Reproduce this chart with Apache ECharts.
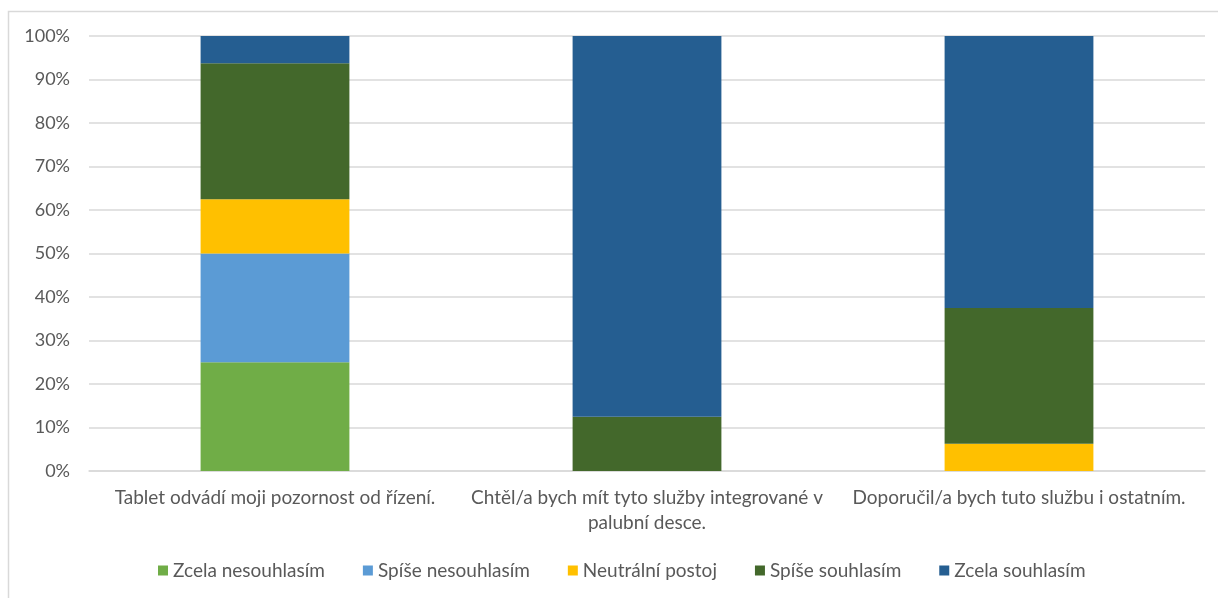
<!DOCTYPE html>
<html>
<head>
<meta charset="utf-8">
<style>
  html, body { margin: 0; padding: 0; background: #fff; }
  #chart { width: 1218px; height: 598px; }
</style>
<script src="https://cdn.jsdelivr.net/npm/echarts@6/dist/echarts.min.js"></script>
</head>
<body>
<div id="chart"></div>
<script>
// Survey statements (x categories)
const categories = [
  'Tablet odvádí moji pozornost od řízení.',
  'Chtěl/a bych mít tyto služby integrované v palubní desce.',
  'Doporučil/a bych tuto službu i ostatním.'
];

// Share of answers per statement, in percent
const zcelaNesouhlasim = [25, 0, 0];
const spiseNesouhlasim = [25, 0, 0];
const neutralniPostoj  = [12.5, 0, 6.25];
const spiseSouhlasim   = [31.25, 12.5, 31.25];
const zcelaSouhlasim   = [6.25, 87.5, 62.5];

const seriesNames = ['Zcela nesouhlasím', 'Spíše nesouhlasím', 'Neutrální postoj', 'Spíše souhlasím', 'Zcela souhlasím'];
const seriesData = [zcelaNesouhlasim, spiseNesouhlasim, neutralniPostoj, spiseSouhlasim, zcelaSouhlasim];
const colors = ['#70AD47', '#5B9BD5', '#FFC000', '#43682B', '#255E91'];

const FONT = 'Lato, "Open Sans", sans-serif';
const LABEL_SIZE = 19;
const LABEL_MAX_WIDTH = 365;

// Word-wrap a category label so each line fits inside its category band
const measureCtx = document.createElement('canvas').getContext('2d');
function wrapLabel(text) {
  measureCtx.font = LABEL_SIZE + 'px ' + FONT;
  const words = text.split(' ');
  const lines = [];
  let line = '';
  words.forEach(w => {
    const test = line ? line + ' ' + w : w;
    if (line && measureCtx.measureText(test).width > LABEL_MAX_WIDTH) {
      lines.push(line);
      line = w;
    } else {
      line = test;
    }
  });
  if (line) lines.push(line);
  return lines.join('\n');
}

const chart = echarts.init(document.getElementById('chart'), null, { renderer: 'canvas' });

chart.setOption({
  animation: false,
  color: colors,
  textStyle: { fontFamily: FONT },
  graphic: [{
    type: 'rect',
    shape: { x: 8.5, y: 11.5, width: 1230, height: 610 },
    style: { fill: 'none', stroke: '#d9d9d9', lineWidth: 1.5 },
    silent: true
  }],
  grid: { left: 89, right: 13, top: 36, bottom: 127, containLabel: false },
  legend: {
    top: 561,
    left: 158,
    padding: 0,
    itemWidth: 10,
    itemHeight: 10,
    itemGap: 38,
    icon: 'rect',
    textStyle: { color: '#595959', fontSize: 19, fontFamily: FONT },
    data: seriesNames
  },
  xAxis: {
    type: 'category',
    data: categories,
    axisLine: { show: true, lineStyle: { color: '#d9d9d9', width: 1.5 } },
    axisTick: { show: false },
    axisLabel: {
      color: '#595959',
      fontSize: LABEL_SIZE,
      fontFamily: FONT,
      margin: 14,
      lineHeight: 25,
      interval: 0,
      formatter: wrapLabel
    }
  },
  yAxis: {
    type: 'value',
    min: 0,
    max: 100,
    interval: 10,
    axisLine: { show: false },
    axisTick: { show: false },
    splitLine: { lineStyle: { color: '#d9d9d9', width: 1.5 } },
    axisLabel: {
      formatter: '{value}%',
      color: '#595959',
      fontSize: 18,
      fontFamily: FONT,
      margin: 19
    }
  },
  series: seriesNames.map((name, i) => ({
    name: name,
    type: 'bar',
    stack: 'total',
    barWidth: '40%',
    data: seriesData[i],
    itemStyle: { color: colors[i] }
  }))
});
</script>
</body>
</html>
